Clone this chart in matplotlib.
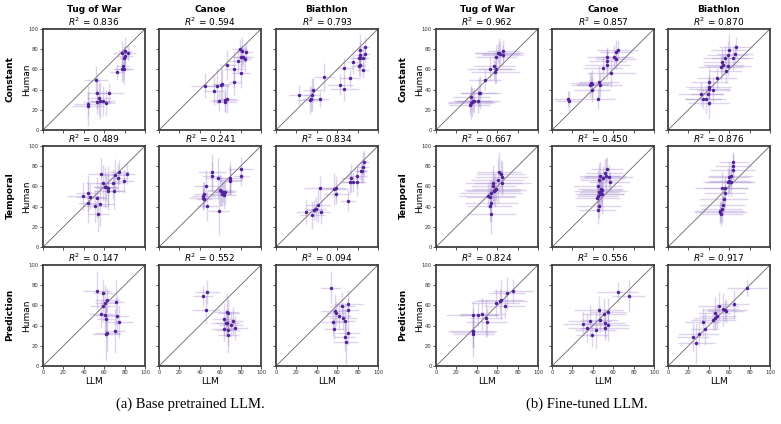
import matplotlib
matplotlib.use("Agg")
import matplotlib.pyplot as plt

W, H = 781, 424

columns = ["Tug of War", "Canoe", "Biathlon"]
rows = ["Constant", "Temporal", "Prediction"]
captions = ["(a) Base pretrained LLM.", "(b) Fine-tuned LLM."]
ticks = [0, 20, 40, 60, 80, 100]

r2_a = [[0.836, 0.594, 0.793], [0.489, 0.241, 0.834], [0.147, 0.552, 0.094]]
r2_b = [[0.962, 0.857, 0.870], [0.667, 0.450, 0.876], [0.824, 0.556, 0.917]]

# ---------------- (a) Base pretrained ----------------
a_ct_x = [51.8, 44, 44, 52.8, 54.8, 52.8, 55.7, 58.4, 62, 64.6, 72.5, 77.4, 79.3, 78.4, 77.4, 80.3, 80.7, 79.3, 83]
a_ct_y = [49.5, 25.4, 24, 36.6, 32, 28, 28.7, 29, 27, 36.6, 57.8, 60, 60, 63.4, 76.6, 78.5, 73.6, 71.3, 76.6]
a_ct_xe = [12, 14, 16, 10, 12, 14, 10, 12, 9, 15, 7, 8, 10, 6, 9, 7, 8, 5, 8]
a_ct_ye = [14, 12, 20, 16, 18, 12, 18, 15, 13, 10, 8, 12, 14, 14, 12, 14, 10, 12, 8]

a_cc_x = [45, 54, 56.7, 60.7, 61.6, 59, 65, 67, 65, 67, 73.4, 74, 77, 79, 80, 81.6, 80.3, 82.3, 84, 85]
a_cc_y = [44, 39, 43.6, 45, 46, 28.4, 29.7, 30.4, 28, 64.4, 60.7, 47.5, 68.3, 80, 56, 78, 72, 72, 70, 77]
a_cc_xe = [14, 10, 12, 8, 10, 9, 12, 8, 10, 8, 10, 6, 8, 7, 9, 6, 8, 10, 6, 7]
a_cc_ye = [12, 14, 18, 15, 16, 10, 12, 14, 10, 15, 18, 13, 12, 10, 14, 14, 12, 10, 13, 10]

a_cb_x = [23, 33, 34, 35, 36.4, 43.6, 47, 63, 67, 67, 72.5, 75.7, 81, 82, 82, 81, 82.6, 82, 85, 87, 87, 85]
a_cb_y = [35, 29.4, 30.4, 35, 39.6, 30.4, 52, 45, 41, 61.7, 51, 67.3, 63.4, 64.4, 71.6, 71.3, 74, 79, 71.3, 75, 82, 59]
a_cb_xe = [10, 12, 9, 8, 10, 8, 10, 12, 14, 8, 10, 6, 7, 5, 6, 8, 5, 4, 6, 5, 4, 6]
a_cb_ye = [10, 14, 12, 16, 12, 8, 14, 10, 12, 10, 8, 12, 10, 12, 10, 12, 14, 16, 10, 8, 10, 8]

a_tt_x = [39.3, 44, 46, 44.6, 51, 52.5, 54.4, 55.4, 56.4, 58.4, 60.3, 61.3, 63.6, 64, 68.5, 70, 70.5, 74, 74.8, 79.3, 82.3]
a_tt_y = [50.3, 53.6, 50, 43.5, 40.5, 49, 32.4, 42.8, 72, 63.4, 59, 59.8, 58.5, 55.2, 63, 55.5, 71, 68.3, 73.9, 65, 72.2]
a_tt_xe = [16, 12, 14, 10, 12, 10, 10, 14, 12, 16, 10, 12, 10, 14, 12, 10, 12, 8, 10, 10, 8]
a_tt_ye = [14, 18, 12, 20, 16, 20, 18, 22, 16, 18, 20, 14, 22, 16, 14, 18, 16, 14, 12, 12, 10]

a_tc_x = [43, 43.6, 44, 44.3, 46, 47.5, 51.8, 52, 57.4, 58.4, 59.7, 61, 61.6, 62.6, 63.3, 64.3, 69.5, 69.5, 69.5, 80, 80.6]
a_tc_y = [50.7, 49, 52.6, 47.7, 60.5, 40.2, 73.9, 70, 68, 36, 56.2, 55, 52.6, 54.2, 51.3, 54, 68, 66.3, 65.4, 77.5, 70.6]
a_tc_xe = [12, 14, 10, 8, 12, 10, 14, 10, 12, 10, 12, 14, 10, 8, 12, 10, 14, 12, 10, 12, 8]
a_tc_ye = [14, 10, 12, 10, 16, 14, 18, 14, 20, 24, 16, 14, 12, 10, 14, 12, 16, 14, 12, 12, 10]

a_tb_x = [29.5, 35.7, 37.7, 39, 41.3, 44.6, 43.6, 56.4, 58.4, 59.3, 70.8, 73.4, 73, 75, 79.3, 79.7, 83, 84.6, 85.2, 86]
a_tb_y = [35, 32, 36.3, 37.3, 41.2, 34.3, 58.2, 57.2, 58.2, 52.6, 46, 68.6, 64, 64, 70.3, 64.7, 75.5, 75.5, 79.7, 83.7]
a_tb_xe = [10, 12, 8, 10, 12, 8, 16, 14, 10, 12, 8, 10, 8, 12, 10, 8, 6, 5, 6, 5]
a_tb_ye = [12, 14, 10, 12, 16, 12, 12, 16, 12, 10, 10, 14, 12, 10, 12, 14, 10, 12, 14, 12]

a_pt_x = [52.8, 59.3, 58.4, 61, 63, 57, 60.3, 61.3, 61.6, 63, 70.2, 71.8, 72.5, 74.4]
a_pt_y = [73.8, 72, 59.7, 62.3, 65, 51.8, 50.5, 46.9, 32, 33, 34.8, 63, 50, 44]
a_pt_xe = [14, 10, 12, 10, 12, 12, 10, 8, 14, 12, 10, 8, 12, 14]
a_pt_ye = [20, 14, 16, 18, 12, 14, 16, 18, 26, 18, 22, 22, 18, 16]

a_pc_x = [43, 47.5, 46, 63.3, 63.3, 65.2, 66.2, 66.2, 68, 67.5, 68, 70.5, 72.8, 74.8]
a_pc_y = [69.2, 73.1, 55.7, 46.2, 37, 42.3, 42.6, 53.4, 52, 35.4, 30.5, 41, 44.3, 37.4]
a_pc_xe = [10, 12, 14, 10, 12, 14, 10, 12, 10, 12, 10, 12, 10, 12]
a_pc_ye = [10, 12, 14, 16, 12, 14, 12, 18, 14, 16, 18, 12, 14, 12]

a_pb_x = [54, 65, 71, 71, 58, 58.7, 61.3, 65.6, 67.2, 55.7, 56.7, 70.8, 67.2, 68.2]
a_pb_y = [77.7, 59.7, 61.3, 55.7, 54.8, 52.5, 49.2, 47.5, 45, 43.3, 36.7, 32.5, 28.9, 23.6]
a_pb_xe = [10, 12, 14, 10, 14, 10, 12, 14, 10, 12, 10, 12, 10, 12]
a_pb_ye = [16, 14, 14, 12, 16, 12, 14, 12, 16, 14, 10, 12, 14, 22]

# ---------------- (b) Fine-tuned ----------------
b_ct_x = [33, 34, 34.6, 35.3, 36.3, 37.6, 40.8, 42.2, 43.5, 48, 52.6, 57.2, 58.2, 59.2, 59.2, 60.5, 61.8, 63, 65.4, 66]
b_ct_y = [25.2, 26.9, 32.5, 27.9, 29.2, 29.2, 29.2, 37, 37, 49.5, 60.3, 63.6, 57.7, 60.3, 71.8, 76, 76.7, 75.7, 74, 78.7]
b_ct_xe = [20, 22, 18, 24, 20, 16, 22, 18, 20, 16, 22, 20, 24, 18, 20, 22, 24, 18, 20, 16]
b_ct_ye = [10, 16, 12, 14, 10, 12, 12, 14, 16, 10, 12, 14, 12, 14, 12, 10, 14, 12, 10, 10]

b_cc_x = [15.7, 16.3, 37, 38.2, 39.5, 39.2, 46, 46.6, 45.4, 50, 54, 54.2, 54, 58, 61, 62.7, 63, 64.4]
b_cc_y = [30.8, 28.9, 45, 46.5, 45.6, 39.3, 47.5, 44.6, 30.5, 61.3, 64.3, 68.5, 71.8, 56.4, 72, 70.2, 77.4, 79.3]
b_cc_xe = [14, 12, 18, 20, 16, 18, 20, 22, 16, 20, 22, 18, 20, 24, 18, 20, 16, 20]
b_cc_ye = [8, 10, 12, 10, 14, 12, 16, 12, 10, 12, 14, 12, 10, 14, 12, 10, 12, 10]

b_cb_x = [32, 34.4, 37, 39, 40, 40, 40.6, 40.6, 44.3, 48, 51.5, 52.8, 54.4, 56, 56.4, 58.7, 59.7, 59.3, 63.3, 65.6, 66.2]
b_cb_y = [35.4, 30.5, 30.5, 35.7, 26.6, 42.6, 47.2, 41, 40, 51, 62, 67.2, 64.3, 71, 58.7, 74.1, 79.3, 63.3, 71.5, 74.8, 82.3]
b_cb_xe = [22, 18, 20, 16, 20, 22, 18, 20, 16, 20, 22, 18, 20, 22, 16, 20, 18, 22, 20, 18, 16]
b_cb_ye = [12, 10, 14, 12, 16, 12, 14, 10, 12, 10, 12, 14, 10, 12, 12, 14, 16, 10, 12, 10, 10]

b_tt_x = [50.6, 53, 54, 54, 52.6, 54, 56, 56.5, 57.8, 59.2, 60.5, 61.8, 63.7, 64.4, 65, 56]
b_tt_y = [50.5, 49.2, 53.7, 43.3, 41, 32.6, 63.5, 55.4, 56, 57.7, 66, 74, 72.6, 69, 63.8, 60]
b_tt_xe = [28, 24, 30, 26, 22, 24, 28, 26, 30, 24, 26, 22, 24, 26, 28, 22]
b_tt_ye = [12, 16, 14, 18, 16, 20, 18, 14, 16, 12, 22, 20, 14, 16, 12, 14]

b_tc_x = [44.4, 44.8, 45, 44.8, 45.8, 46, 46.7, 47.7, 48, 49, 48.7, 45.8, 46.7, 49.7, 51.6, 52.6, 55.5, 54, 56.5]
b_tc_y = [48.9, 50.8, 60.6, 37, 40.7, 54.4, 52, 57, 55.4, 56, 52.4, 66.8, 70, 68, 73.6, 70, 69, 77.5, 64.5]
b_tc_xe = [22, 20, 24, 18, 22, 20, 24, 22, 26, 20, 22, 18, 20, 22, 18, 20, 24, 16, 20]
b_tc_ye = [14, 12, 16, 14, 12, 18, 14, 12, 16, 14, 20, 16, 14, 12, 14, 18, 12, 12, 10]

b_tb_x = [50.5, 52, 51, 52.8, 53.8, 54.8, 55.4, 52.5, 56, 58.7, 59.7, 61.3, 61.6, 60, 63.6, 64, 64]
b_tb_y = [35.8, 32.6, 34.2, 37.5, 41.7, 47.2, 53, 58.6, 58.3, 64.5, 69.4, 70, 64.5, 65, 75.9, 79.8, 84]
b_tb_xe = [24, 22, 26, 20, 22, 24, 20, 26, 22, 24, 20, 22, 24, 20, 22, 18, 14]
b_tb_ye = [10, 12, 10, 14, 10, 12, 14, 16, 12, 14, 16, 12, 14, 12, 10, 12, 10]

b_pt_x = [36, 36, 36.3, 36.6, 41.5, 45.4, 49, 49.7, 58.5, 63, 63.4, 67.3, 69.6, 75.5]
b_pt_y = [50.2, 35, 33.4, 32, 50.2, 51.5, 47.2, 43.6, 62.6, 64, 65.6, 59.7, 72, 74]
b_pt_xe = [26, 24, 22, 20, 18, 22, 16, 20, 24, 26, 22, 20, 18, 20]
b_pt_ye = [14, 16, 24, 14, 12, 16, 18, 14, 14, 12, 20, 12, 16, 12]

b_pc_x = [30.7, 34, 37.3, 39.2, 43, 46, 46.7, 51, 51.6, 51.6, 55, 55.2, 64.4, 75.2]
b_pc_y = [42, 37.4, 44.3, 30.8, 35.7, 55.7, 46, 51.8, 42.3, 37.7, 53.8, 40.7, 73, 69.2]
b_pc_xe = [20, 18, 22, 16, 20, 24, 18, 22, 20, 24, 18, 20, 20, 16]
b_pc_ye = [12, 14, 16, 12, 18, 14, 12, 16, 14, 12, 14, 16, 10, 16]

b_pb_x = [24.6, 27.9, 30.2, 36.4, 34.4, 44.3, 45.9, 45.6, 48.5, 49.8, 54, 55.4, 56.7, 65, 77.4]
b_pb_y = [28.5, 22.6, 32, 36.4, 43.3, 45.2, 47.5, 52.5, 49.2, 59.3, 56, 55, 54.4, 61.6, 77.7]
b_pb_xe = [16, 18, 20, 14, 18, 22, 20, 16, 18, 20, 16, 22, 18, 14, 20]
b_pb_ye = [14, 20, 12, 16, 14, 10, 12, 16, 12, 14, 16, 10, 12, 14, 8]

panels_a = [
    [(a_ct_x, a_ct_y, a_ct_xe, a_ct_ye), (a_cc_x, a_cc_y, a_cc_xe, a_cc_ye), (a_cb_x, a_cb_y, a_cb_xe, a_cb_ye)],
    [(a_tt_x, a_tt_y, a_tt_xe, a_tt_ye), (a_tc_x, a_tc_y, a_tc_xe, a_tc_ye), (a_tb_x, a_tb_y, a_tb_xe, a_tb_ye)],
    [(a_pt_x, a_pt_y, a_pt_xe, a_pt_ye), (a_pc_x, a_pc_y, a_pc_xe, a_pc_ye), (a_pb_x, a_pb_y, a_pb_xe, a_pb_ye)],
]
panels_b = [
    [(b_ct_x, b_ct_y, b_ct_xe, b_ct_ye), (b_cc_x, b_cc_y, b_cc_xe, b_cc_ye), (b_cb_x, b_cb_y, b_cb_xe, b_cb_ye)],
    [(b_tt_x, b_tt_y, b_tt_xe, b_tt_ye), (b_tc_x, b_tc_y, b_tc_xe, b_tc_ye), (b_tb_x, b_tb_y, b_tb_xe, b_tb_ye)],
    [(b_pt_x, b_pt_y, b_pt_xe, b_pt_ye), (b_pc_x, b_pc_y, b_pc_xe, b_pc_ye), (b_pb_x, b_pb_y, b_pb_xe, b_pb_ye)],
]

POINT = "#52229a"
BAR = "#9a7cc9"

fig = plt.figure(figsize=(W / 100, H / 100), dpi=100)

def px_axes(left, top, w=102, h=101):
    return fig.add_axes([left / W, 1 - (top + h) / H, w / W, h / H])

col_lefts = [[43, 159, 276], [436, 552, 668]]
row_tops = [29, 146, 265]

for g, (panels, r2) in enumerate([(panels_a, r2_a), (panels_b, r2_b)]):
    for i in range(3):
        for j in range(3):
            ax = px_axes(col_lefts[g][j], row_tops[i])
            x, y, xe, ye = panels[i][j]
            ax.plot([0, 100], [0, 100], color="0.4", lw=0.6, zorder=1)
            ax.errorbar(x, y, xerr=xe, yerr=ye, fmt="none", ecolor=BAR,
                        elinewidth=1.0, alpha=0.32, capsize=0, zorder=2)
            ax.plot(x, y, "o", color=POINT, ms=2.5, mec="none", zorder=3)
            ax.set_xlim(0, 100)
            ax.set_ylim(0, 100)
            ax.set_xticks(ticks)
            ax.set_yticks(ticks)
            ax.tick_params(labelsize=3.8, length=2, width=0.6, pad=1, colors="0.2")
            for s in ax.spines.values():
                s.set_linewidth(1.3)
                s.set_color("0.25")
            if i < 2:
                ax.set_xticklabels([])
            else:
                ax.set_xlabel("LLM", fontsize=6.5, labelpad=1)
            if j > 0:
                ax.set_yticklabels([])
            else:
                ax.set_ylabel("Human", fontsize=6.5)
                ax.yaxis.set_label_coords(-12 / 102, 0.5)
            ax.set_title(r"$R^2$ = %.3f" % r2[i][j], fontsize=6.5, pad=2)
            if i == 0:
                cx = (col_lefts[g][j] + 51) / W
                fig.text(cx, 1 - 9 / H, columns[j], ha="center", va="center",
                         fontsize=6.5, fontweight="bold")
            if j == 0:
                lx = (10 if g == 0 else 403) / W
                cy = 1 - (row_tops[i] + 50) / H
                fig.text(lx, cy, rows[i], rotation=90, ha="center", va="center",
                         fontsize=6.5, fontweight="bold")

fig.text(190 / W, 1 - 404 / H, captions[0], ha="center", va="center",
         fontsize=10.5, family="Liberation Serif")
fig.text(587 / W, 1 - 404 / H, captions[1], ha="center", va="center",
         fontsize=10.5, family="Liberation Serif")

fig.savefig("out.png", dpi=100)
